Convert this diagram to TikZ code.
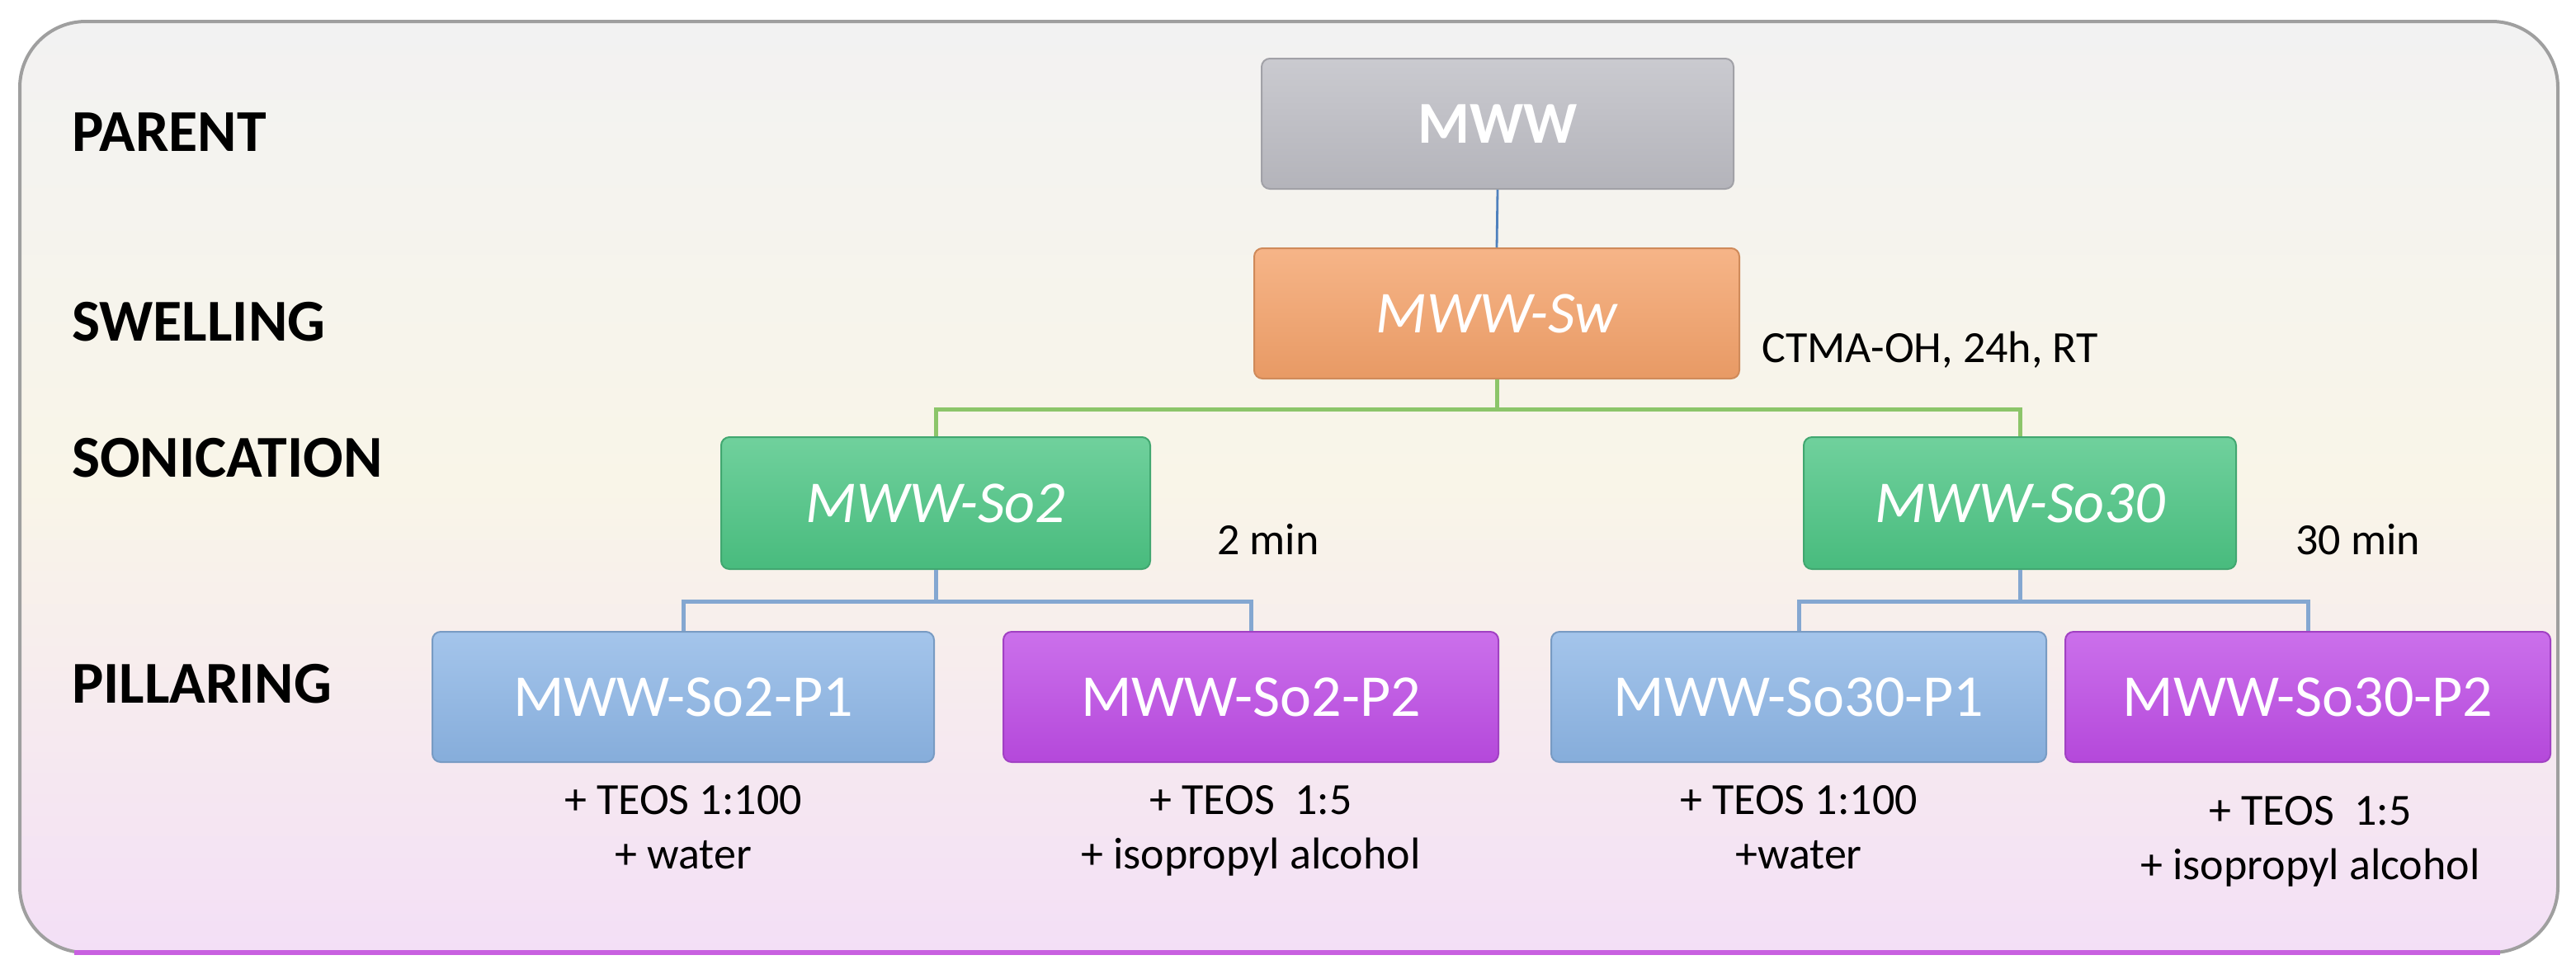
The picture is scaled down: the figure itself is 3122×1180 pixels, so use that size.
\documentclass[tikz,border=0pt]{standalone}
\usepackage{fontspec}
\setmainfont{Carlito}
\begin{document}
\begin{tikzpicture}[x=0.5pt,y=-0.5pt,
  bx/.style 2 args={rounded corners=5pt, draw=#1!85!black, line width=1pt, top color=#1!80!white, bottom color=#1!95!black, minimum width=#2, minimum height=79pt, text=white, font=\fontsize{36}{40}\selectfont, inner sep=0pt},
  lab/.style={font=\bfseries\fontsize{36}{40}\selectfont, anchor=west},
  note/.style={font=\fontsize{27}{33}\selectfont, align=center, text=black},
  side/.style={font=\fontsize{27}{33}\selectfont, anchor=west},
  con/.style={line width=1.4pt}]
\definecolor{cgray}{HTML}{BDBDC4}
\definecolor{corange}{HTML}{F4A26A}
\definecolor{cgreen}{HTML}{4CC584}
\definecolor{cblue}{HTML}{8DB6E6}
\definecolor{cpurple}{HTML}{BE4CE6}
\definecolor{lblue}{HTML}{4F81BD}
\definecolor{lgreen}{HTML}{8CC56A}
\definecolor{bgtop}{HTML}{F2F2F2}
\definecolor{bgmid}{HTML}{F9F5E8}
\definecolor{bgbot}{HTML}{F3DFF6}
\definecolor{bordbot}{HTML}{C860E0}
\useasboundingbox (0,0) rectangle (3122,1180);
\shade[top color=bgtop, bottom color=bgbot, middle color=bgmid, rounded corners=40pt]
  (24,26) rectangle (3100,1155);
\draw[line width=2pt, rounded corners=40pt, draw=gray!75] (24,26) rectangle (3100,1155);
\draw[line width=3pt, draw=bordbot] (90,1155) -- (3030,1155);
\node[lab] (l1) at (80,160) {PARENT};
\node[lab] (l2) at (80,390) {SWELLING};
\node[lab] (l3) at (80,555) {SONICATION};
\node[lab] (l4) at (80,829) {PILLARING};
\node[bx={cgray}{286pt}, font=\bfseries\fontsize{36}{40}\selectfont] (mww) at (1815,150) {MWW};
\node[bx={corange}{294pt}, font=\itshape\fontsize{36}{40}\selectfont] (sw) at (1814,380) {MWW-Sw};
\node[bx={cgreen}{260pt}, minimum height=80pt, font=\itshape\fontsize{36}{40}\selectfont] (so2) at (1134,610) {MWW-So2};
\node[bx={cgreen}{262pt}, minimum height=80pt, font=\itshape\fontsize{36}{40}\selectfont] (so30) at (2448,610) {MWW-So30};
\node[bx={cblue}{304pt}] (p1) at (828,845) {MWW-So2-P1};
\node[bx={cpurple}{300pt}] (p2) at (1516,845) {MWW-So2-P2};
\node[bx={cblue}{300pt}] (p3) at (2180,845) {MWW-So30-P1};
\node[bx={cpurple}{294pt}] (p4) at (2797,845) {MWW-So30-P2};
\node[side] (t1) at (2128,424) {CTMA-OH, 24h, RT};
\node[side] (t2) at (1468,654) {2 min};
\node[side] (t3) at (2775,654) {30 min};
\node[note, anchor=north] (n1) at (828,945) {+ TEOS 1:100\\+ water};
\node[note, anchor=north] (n2) at (1516,945) {+ TEOS\ \ 1:5\\+ isopropyl alcohol};
\node[note, anchor=north] (n3) at (2180,945) {+ TEOS 1:100\\+water};
\node[note, anchor=north] (n4) at (2800,958) {+ TEOS\ \ 1:5\\+ isopropyl alcohol};
\draw[con, lblue] (mww.south) -- (sw.north);
\draw[con, lgreen, line width=2.5pt] (sw.south) -- ++(0,36) -| (so2.north);
\draw[con, lgreen, line width=2.5pt] (sw.south) -- ++(0,36) -| (so30.north);
\draw[con, lblue!70, line width=2.5pt] (so2.south) -- ++(0,38) -| (p1.north);
\draw[con, lblue!70, line width=2.5pt] (so2.south) -- ++(0,38) -| (p2.north);
\draw[con, lblue!70, line width=2.5pt] (so30.south) -- ++(0,38) -| (p3.north);
\draw[con, lblue!70, line width=2.5pt] (so30.south) -- ++(0,38) -| (p4.north);
\end{tikzpicture}
\end{document}
